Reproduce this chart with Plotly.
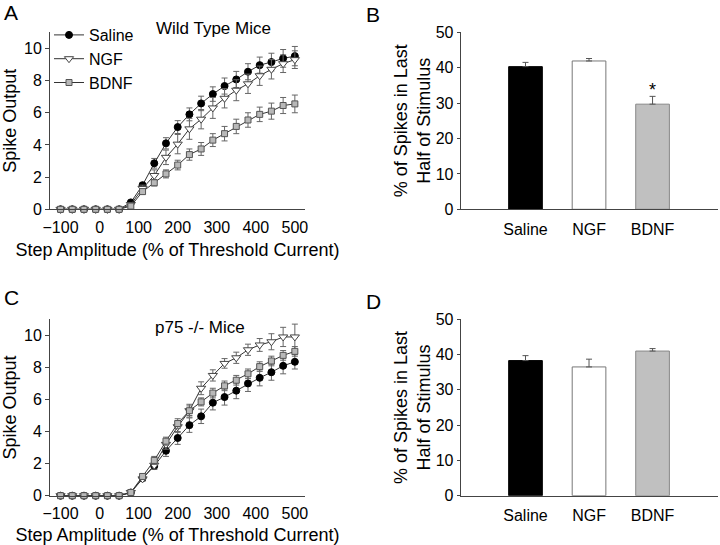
import plotly.graph_objects as go

# ---------------- data ----------------
step_amp = [-100, -70, -40, -10, 20, 50, 80, 110, 140, 170, 200, 230, 260, 290,
            320, 350, 380, 410, 440, 470, 500]
Z = [0, 0, 0, 0, 0, 0]
Z_ERR = [0, 0, 0, 0, 0, 0]

# Panel A - wild type mice
wt_saline = Z + [0.43, 1.5, 2.86, 4.1, 5.11, 5.9, 6.58, 7.16, 7.66, 8.07, 8.55, 8.96, 9.15, 9.38, 9.52]
wt_saline_err = Z_ERR + [0.1, 0.15, 0.3, 0.35, 0.4, 0.4, 0.45, 0.45, 0.5, 0.5, 0.5, 0.5, 0.55, 0.55, 0.6]
wt_ngf = Z + [0.3, 1.3, 2.1, 3.23, 4.05, 5.0, 5.6, 6.3, 6.9, 7.4, 7.8, 8.3, 8.7, 9.05, 9.3]
wt_ngf_err = Z_ERR + [0.1, 0.2, 0.35, 0.45, 0.6, 0.65, 0.6, 0.65, 0.6, 0.65, 0.6, 0.6, 0.6, 0.55, 0.55]
wt_bdnf = Z + [0.2, 1.1, 1.65, 2.2, 2.75, 3.4, 3.75, 4.3, 4.7, 5.15, 5.55, 5.9, 6.1, 6.45, 6.55]
wt_bdnf_err = Z_ERR + [0.1, 0.15, 0.2, 0.25, 0.3, 0.35, 0.4, 0.4, 0.45, 0.45, 0.45, 0.45, 0.5, 0.5, 0.55]

# Panel C - p75 -/- mice
ko_saline = Z + [0.2, 1.1, 1.85, 2.8, 3.6, 4.4, 4.95, 5.8, 6.15, 6.55, 7.0, 7.35, 7.7, 8.1, 8.35]
ko_saline_err = Z_ERR + [0.1, 0.15, 0.2, 0.35, 0.4, 0.45, 0.45, 0.45, 0.5, 0.5, 0.5, 0.5, 0.5, 0.5, 0.45]
ko_ngf = Z + [0.2, 1.05, 1.9, 3.2, 4.3, 5.3, 6.7, 7.5, 8.25, 8.6, 9.1, 9.4, 9.6, 9.9, 9.9]
ko_ngf_err = Z_ERR + [0.1, 0.15, 0.25, 0.3, 0.35, 0.4, 0.4, 0.35, 0.3, 0.35, 0.35, 0.4, 0.5, 0.6, 0.8]
ko_bdnf = Z + [0.2, 1.2, 2.2, 3.4, 4.5, 5.3, 5.85, 6.4, 6.85, 7.2, 7.6, 8.05, 8.4, 8.75, 9.0]
ko_bdnf_err = Z_ERR + [0.1, 0.15, 0.25, 0.25, 0.3, 0.3, 0.25, 0.3, 0.3, 0.3, 0.3, 0.3, 0.3, 0.3, 0.3]

# Bar panels
groups = ["Saline", "NGF", "BDNF"]
wt_pct = [40.3, 41.9, 29.7]
wt_pct_err = [1.2, 0.7, 2.2]
ko_pct = [38.3, 36.5, 41.0]
ko_pct_err = [1.4, 2.2, 0.7]
star_label = ["", "", "*"]

line_x_ticks = [-100, 0, 100, 200, 300, 400, 500]
spike_ticks = [0, 2, 4, 6, 8, 10]
pct_ticks = [0, 10, 20, 30, 40, 50]

# ---------------- styles ----------------
FONT = "Liberation Sans, Arial, sans-serif"
AX = "#444444"
ERR = "#666666"
LINE = "#333333"

styles = {
    "Saline": dict(marker=dict(symbol="circle", size=7, color="black",
                               line=dict(color="black", width=1))),
    "NGF": dict(marker=dict(symbol="triangle-down", size=8, color="white",
                            line=dict(color="#444444", width=1))),
    "BDNF": dict(marker=dict(symbol="square", size=6, color="#b8b8b8",
                             line=dict(color="#555555", width=1))),
}

fig = go.Figure()


def add_lines(series, xa, ya, show_legend):
    for name, y, e in series:
        fig.add_trace(go.Scatter(
            x=step_amp, y=y, name=name, mode="lines+markers",
            line=dict(color=LINE, width=1),
            marker=styles[name]["marker"],
            error_y=dict(type="data", array=e, visible=True, color=ERR,
                         thickness=1, width=3),
            xaxis=xa, yaxis=ya, showlegend=show_legend, cliponaxis=False,
        ))


add_lines([("Saline", wt_saline, wt_saline_err),
           ("NGF", wt_ngf, wt_ngf_err),
           ("BDNF", wt_bdnf, wt_bdnf_err)], "x", "y", True)
add_lines([("Saline", ko_saline, ko_saline_err),
           ("NGF", ko_ngf, ko_ngf_err),
           ("BDNF", ko_bdnf, ko_bdnf_err)], "x3", "y3", False)

bar_fill = ["black", "white", "#c0c0c0"]
bar_edge = ["black", "#777777", "#888888"]
err_col = "#555555"
STAR_GAP = 1.3  # value units between error-bar top and star text


def add_bars(vals, errs, xa, ya, text=None):
    fig.add_trace(go.Bar(
        x=groups, y=vals, width=0.53,
        marker=dict(color=bar_fill, line=dict(color=bar_edge, width=1)),
        error_y=dict(type="data", symmetric=False, array=errs,
                     arrayminus=[0] * len(errs), color=err_col,
                     thickness=1, width=3),
        xaxis=xa, yaxis=ya, showlegend=False,
    ))
    if text is not None:
        fig.add_trace(go.Scatter(
            x=groups, y=[v + e + STAR_GAP for v, e in zip(vals, errs)], mode="text",
            text=text, textposition="middle center",
            textfont=dict(size=18, color="black", family=FONT),
            xaxis=xa, yaxis=ya, showlegend=False, hoverinfo="skip",
        ))


add_bars(wt_pct, wt_pct_err, "x2", "y2", star_label)
add_bars(ko_pct, ko_pct_err, "x4", "y4")

# ---------------- axes ----------------
xl_dom = [50 / 720, 305 / 720]
xr_dom = [460.7 / 720, 718 / 720]
ytop_dom = [1 - 209.3 / 545, 1 - 32.3 / 545]
ybot_dom = [1 - 495.7 / 545, 1 - 319.3 / 545]

common_axis = dict(showline=True, linecolor=AX, linewidth=1, showgrid=False,
                   zeroline=False, automargin=False,
                   tickfont=dict(size=16, family=FONT, color="black"),
                   title_font=dict(size=18, family=FONT, color="black"))

line_x = dict(common_axis, range=[-127, 526], tickvals=line_x_ticks,
              ticks="", ticklabelstandoff=3,
              title_text="Step Amplitude (% of Threshold Current)",
              title_standoff=8)
line_y = dict(common_axis, range=[0, 11], tickvals=spike_ticks, ticks="outside",
              ticklen=4, tickcolor=AX, title_text="Spike Output", title_standoff=6)
bar_x = dict(common_axis, range=[-1.02, 3.03], ticks="", type="category",
             ticklabelstandoff=5)
bar_y = dict(common_axis, range=[0, 50], tickvals=pct_ticks, ticks="outside",
             ticklen=3, tickcolor=AX,
             title_text="% of Spikes in Last<br>Half of Stimulus", title_standoff=0)

fig.update_layout(
    width=720, height=545,
    margin=dict(l=0, r=0, t=0, b=0, autoexpand=False),
    paper_bgcolor="white", plot_bgcolor="white",
    font=dict(family=FONT, color="black"),
    xaxis=dict(line_x, domain=xl_dom, anchor="y"),
    yaxis=dict(line_y, domain=ytop_dom, anchor="x"),
    xaxis3=dict(line_x, domain=xl_dom, anchor="y3"),
    yaxis3=dict(line_y, domain=ybot_dom, anchor="x3"),
    xaxis2=dict(bar_x, domain=xr_dom, anchor="y2"),
    yaxis2=dict(bar_y, domain=ytop_dom, anchor="x2"),
    xaxis4=dict(bar_x, domain=xr_dom, anchor="y4"),
    yaxis4=dict(bar_y, domain=ybot_dom, anchor="x4"),
    bargap=0.5,
    legend=dict(x=49 / 720, y=1 - 18 / 545, xanchor="left", yanchor="top",
                bgcolor="rgba(0,0,0,0)", font=dict(size=16, family=FONT),
                itemwidth=30, tracegroupgap=0),
)

annots = [
    dict(text="A", x=2 / 720, y=1 - 12 / 545),
    dict(text="B", x=364 / 720, y=1 - 14 / 545),
    dict(text="C", x=2 / 720, y=1 - 297 / 545),
    dict(text="D", x=364 / 720, y=1 - 301 / 545),
]
for a in annots:
    fig.add_annotation(text=a["text"], x=a["x"], y=a["y"], xref="paper", yref="paper",
                       xanchor="left", yanchor="middle", showarrow=False,
                       font=dict(size=21, family=FONT, color="black"))

fig.add_annotation(text="Wild Type Mice", x=213 / 720, y=1 - 28 / 545, xref="paper",
                   yref="paper", showarrow=False, xanchor="center", yanchor="middle",
                   font=dict(size=17, family=FONT, color="black"))
fig.add_annotation(text="p75 -/- Mice", x=200 / 720, y=1 - 327 / 545, xref="paper",
                   yref="paper", showarrow=False, xanchor="center", yanchor="middle",
                   font=dict(size=17, family=FONT, color="black"))

# remove the browser's default 8px body margin so the figure fills the window
fig.write_html("out.html", config={"displayModeBar": False},
               post_script="document.body.style.margin='0px';"
                           "document.body.style.overflow='hidden';")
